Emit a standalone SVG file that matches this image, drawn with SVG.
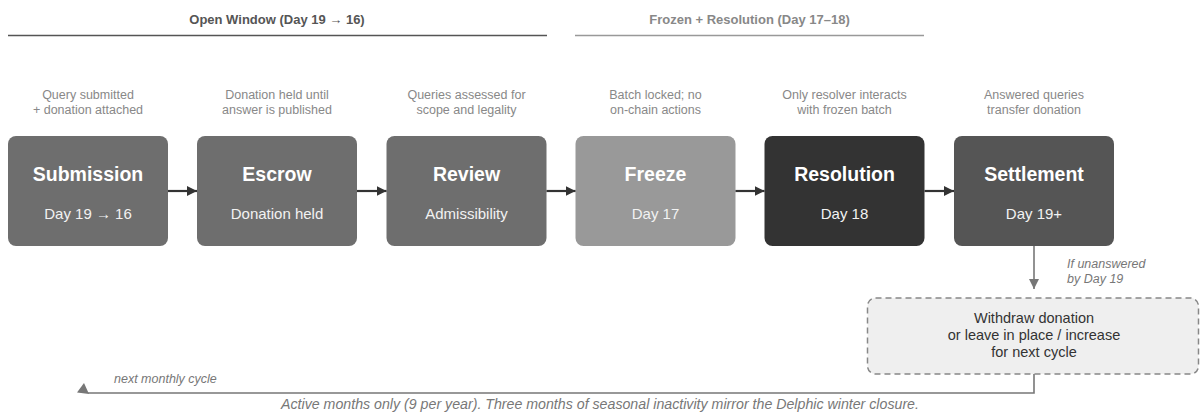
<svg xmlns="http://www.w3.org/2000/svg" width="1201" height="417" viewBox="0 0 1201 417">
<style>
text{font-family:"Liberation Sans",Arial,sans-serif}
.hdr{font-size:13px;font-weight:bold;text-anchor:middle}
.desc{font-size:12.5px;fill:#888;text-anchor:middle}
.title{font-size:19.5px;font-weight:bold;fill:#fff;text-anchor:middle}
.sub{font-size:15px;fill:#f2f2f2;text-anchor:middle}
.note{font-size:12.5px;font-style:italic;fill:#777}
.foot{font-size:14.2px;font-style:italic;fill:#777;text-anchor:middle}
.box{stroke:none}
.flow{stroke:#333;stroke-width:2.2;fill:none}
.gray{stroke:#777;stroke-width:1.6;fill:none}
</style>
<defs>
<marker id="ah" markerWidth="12" markerHeight="12" refX="10" refY="6" orient="auto" markerUnits="userSpaceOnUse">
<path d="M0,1 L10,6 L0,11 Z" fill="#333"/>
</marker>
<marker id="ahg" markerWidth="12" markerHeight="12" refX="10" refY="6" orient="auto" markerUnits="userSpaceOnUse">
<path d="M0,1 L10,6 L0,11 Z" fill="#777"/>
</marker>
</defs>
<rect width="1201" height="417" fill="#fff"/>

<g id="phase-open">
<text class="hdr" x="277" y="24" fill="#555">Open Window (Day 19 → 16)</text>
<line x1="8" y1="35.5" x2="547" y2="35.5" stroke="#555" stroke-width="1.5"/>
</g>
<g id="phase-frozen">
<text class="hdr" x="749.5" y="24" fill="#888">Frozen + Resolution (Day 17–18)</text>
<line x1="575" y1="35.5" x2="924" y2="35.5" stroke="#999" stroke-width="1.5"/>
</g>

<g id="submission">
<text class="desc" x="88" y="99">Query submitted</text>
<text class="desc" x="88" y="114">+ donation attached</text>
<rect class="box" x="8" y="136" width="160" height="110" rx="8" fill="#6e6e6e"/>
<text class="title" x="88" y="181">Submission</text>
<text class="sub" x="88" y="219">Day 19 → 16</text>
</g>
<g id="escrow">
<text class="desc" x="277" y="99">Donation held until</text>
<text class="desc" x="277" y="114">answer is published</text>
<rect class="box" x="197" y="136" width="160" height="110" rx="8" fill="#6e6e6e"/>
<text class="title" x="277" y="181">Escrow</text>
<text class="sub" x="277" y="219">Donation held</text>
</g>
<g id="review">
<text class="desc" x="466.5" y="99">Queries assessed for</text>
<text class="desc" x="466.5" y="114">scope and legality</text>
<rect class="box" x="386.5" y="136" width="160" height="110" rx="8" fill="#6e6e6e"/>
<text class="title" x="466.5" y="181">Review</text>
<text class="sub" x="466.5" y="219">Admissibility</text>
</g>
<g id="freeze">
<text class="desc" x="655.5" y="99">Batch locked; no</text>
<text class="desc" x="655.5" y="114">on-chain actions</text>
<rect class="box" x="575.5" y="136" width="160" height="110" rx="8" fill="#999"/>
<text class="title" x="655.5" y="181">Freeze</text>
<text class="sub" x="655.5" y="219">Day 17</text>
</g>
<g id="resolution">
<text class="desc" x="844.5" y="99">Only resolver interacts</text>
<text class="desc" x="844.5" y="114">with frozen batch</text>
<rect class="box" x="764.5" y="136" width="160" height="110" rx="8" fill="#333"/>
<text class="title" x="844.5" y="181">Resolution</text>
<text class="sub" x="844.5" y="219">Day 18</text>
</g>
<g id="settlement">
<text class="desc" x="1034" y="99">Answered queries</text>
<text class="desc" x="1034" y="114">transfer donation</text>
<rect class="box" x="954" y="136" width="160" height="110" rx="8" fill="#555"/>
<text class="title" x="1034" y="181">Settlement</text>
<text class="sub" x="1034" y="219">Day 19+</text>
</g>
<g id="withdraw">
<rect x="867.5" y="298" width="331" height="76" rx="8" fill="#efefef" stroke="#888" stroke-width="1.5" stroke-dasharray="6,4"/>
<text x="1034" y="323" font-size="14.5" fill="#333" text-anchor="middle">Withdraw donation</text>
<text x="1034" y="340" font-size="14.5" fill="#333" text-anchor="middle">or leave in place / increase</text>
<text x="1034" y="357" font-size="14.5" fill="#333" text-anchor="middle">for next cycle</text>
</g>

<g id="connectors">
<line class="flow" x1="168" y1="191" x2="197" y2="191" marker-end="url(#ah)"/>
<line class="flow" x1="357" y1="191" x2="386.5" y2="191" marker-end="url(#ah)"/>
<line class="flow" x1="546.5" y1="191" x2="575.5" y2="191" marker-end="url(#ah)"/>
<line class="flow" x1="735.5" y1="191" x2="764.5" y2="191" marker-end="url(#ah)"/>
<line class="flow" x1="924.5" y1="191" x2="954" y2="191" marker-end="url(#ah)"/>
<line class="gray" x1="1034" y1="246" x2="1034" y2="289" marker-end="url(#ahg)"/>
<text class="note" x="1067" y="268">If unanswered</text>
<text class="note" x="1067" y="283">by Day 19</text>
<polyline class="gray" points="1034,374 1034,393 88,393"/>
<polygon points="77,392.5 84,383 89,394" fill="#777"/>
<text class="note" x="114" y="383">next monthly cycle</text>
</g>

<text class="foot" x="600" y="408.5">Active months only (9 per year). Three months of seasonal inactivity mirror the Delphic winter closure.</text>
</svg>
